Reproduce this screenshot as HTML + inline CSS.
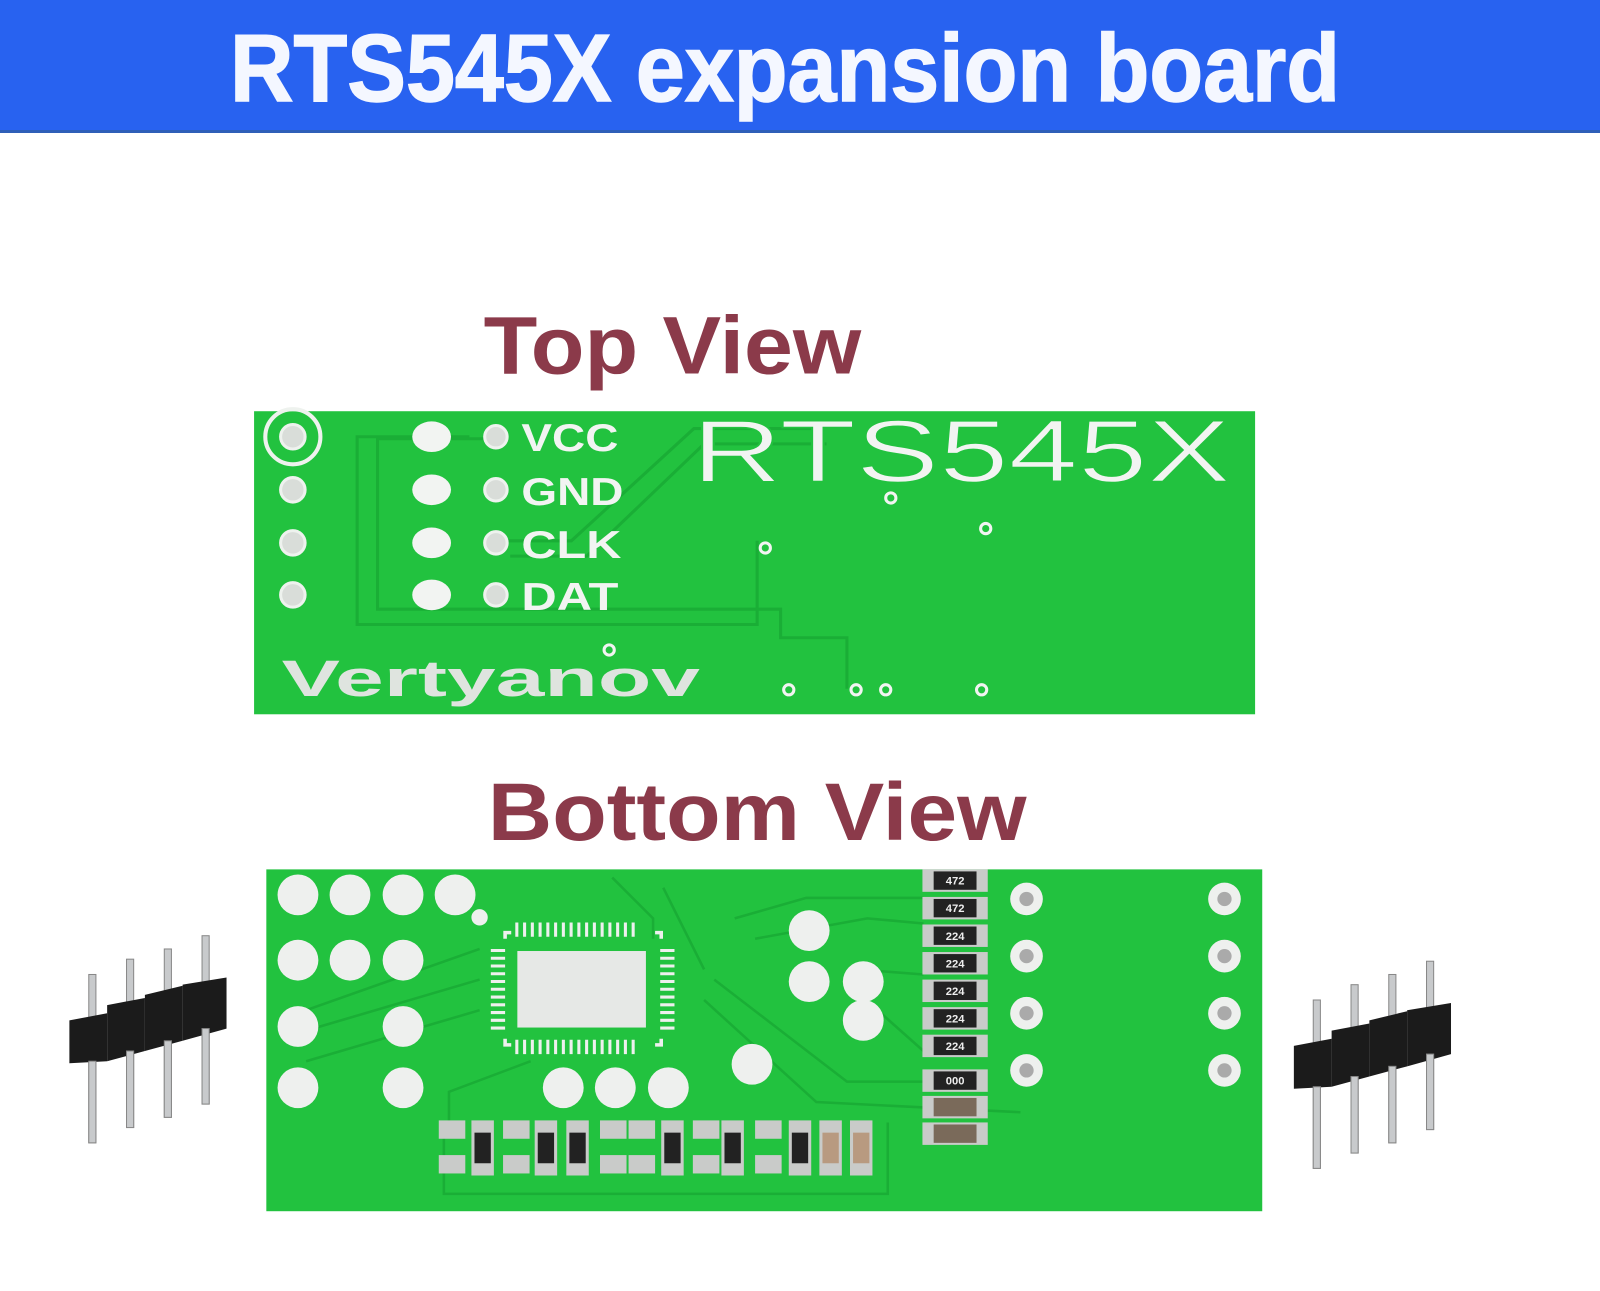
<!DOCTYPE html>
<html><head><meta charset="utf-8"><style>html,body{margin:0;padding:0;background:#fff}svg{display:block}</style></head>
<body>
<svg width="1600" height="1291" viewBox="0 0 1600 1291" xmlns="http://www.w3.org/2000/svg" font-family="Liberation Sans, sans-serif">
<rect x="0" y="0" width="1600" height="132" fill="#2862f0"/>
<rect x="0" y="130" width="1600" height="3" fill="#2f5fb8"/>
<text x="230" y="101" font-size="96" font-weight="bold" fill="#f4f7ff" stroke="#f4f7ff" stroke-width="1.5" textLength="1110" lengthAdjust="spacingAndGlyphs">RTS545X expansion board</text>
<g transform="scale(1.0204)">
<text x="474" y="366" font-size="80" font-weight="bold" fill="#8b3a4a" textLength="370" lengthAdjust="spacingAndGlyphs">Top View</text>
<text x="478" y="823" font-size="80" font-weight="bold" fill="#8b3a4a" textLength="528" lengthAdjust="spacingAndGlyphs">Bottom View</text>
<!-- top board -->
<rect x="249" y="403" width="981" height="297" fill="#22c23f"/>
<g fill="none" stroke="#1aae36" stroke-width="3">
<polyline points="460,428 350,428 350,612 742,612 742,530"/>
<polyline points="480,430 370,430 370,597 765,597 765,625 830,625 830,675"/>
<polyline points="495,530 560,530 680,420 800,420"/>
<polyline points="500,545 575,545 690,435 810,435"/>
</g>
<g fill="#d9ddd9" stroke="#eef2ee" stroke-width="3">
<circle cx="287" cy="428" r="12"/><circle cx="287" cy="480" r="12"/><circle cx="287" cy="532" r="12"/><circle cx="287" cy="583" r="12"/>
<circle cx="486" cy="428" r="11"/><circle cx="486" cy="480" r="11"/><circle cx="486" cy="532" r="11"/><circle cx="486" cy="583" r="11"/>
</g>
<circle cx="287" cy="428" r="27" fill="none" stroke="#eef2ee" stroke-width="4"/>
<g fill="#f2f4f2">
<ellipse cx="423" cy="428" rx="19" ry="15"/><ellipse cx="423" cy="480" rx="19" ry="15"/><ellipse cx="423" cy="532" rx="19" ry="15"/><ellipse cx="423" cy="583" rx="19" ry="15"/>
</g>
<g fill="#f2f4f2" font-weight="bold" font-size="38">
<text x="511" y="442" textLength="95" lengthAdjust="spacingAndGlyphs">VCC</text><text x="511" y="495" textLength="100" lengthAdjust="spacingAndGlyphs">GND</text><text x="511" y="547" textLength="98" lengthAdjust="spacingAndGlyphs">CLK</text><text x="511" y="598" textLength="95" lengthAdjust="spacingAndGlyphs">DAT</text>
</g>
<text x="678" y="472" font-size="86" fill="#f2f4f2" stroke="#22c23f" stroke-width="1.5" textLength="528" lengthAdjust="spacingAndGlyphs">RTS545X</text>
<text x="276" y="682" font-size="50" font-weight="bold" fill="#dfe4df" textLength="410" lengthAdjust="spacingAndGlyphs">Vertyanov</text>
<g fill="#22c23f" stroke="#f2f4f2" stroke-width="3">
<circle cx="750" cy="537" r="5"/><circle cx="966" cy="518" r="5"/><circle cx="873" cy="488" r="5"/><circle cx="597" cy="637" r="5"/>
<circle cx="773" cy="676" r="5"/><circle cx="839" cy="676" r="5"/><circle cx="868" cy="676" r="5"/><circle cx="962" cy="676" r="5"/>
</g>
<!-- bottom board -->
<rect x="261" y="852" width="976" height="335" fill="#22c23f"/>
<g fill="none" stroke="#1aae36" stroke-width="2.5">
<polyline points="300,990 470,930"/><polyline points="300,1010 470,960"/><polyline points="300,1040 470,990"/>
<polyline points="600,860 640,900 640,920"/><polyline points="650,870 690,950"/>
<polyline points="690,980 800,1080 1000,1090"/><polyline points="700,960 830,1060 905,1060"/>
<polyline points="720,900 790,880 905,880"/><polyline points="740,920 850,900 905,905"/>
<polyline points="840,950 905,955"/><polyline points="860,990 905,1030"/>
<polyline points="440,1100 440,1070 520,1040"/>
<polyline points="435,1100 435,1170 870,1170 870,1100"/>
</g>
<g fill="#eef0ee">
<circle cx="292" cy="877" r="20"/><circle cx="343" cy="877" r="20"/><circle cx="395" cy="877" r="20"/><circle cx="446" cy="877" r="20"/>
<circle cx="292" cy="941" r="20"/><circle cx="343" cy="941" r="20"/><circle cx="395" cy="941" r="20"/>
<circle cx="292" cy="1006" r="20"/><circle cx="395" cy="1006" r="20"/>
<circle cx="292" cy="1066" r="20"/><circle cx="395" cy="1066" r="20"/>
<circle cx="793" cy="912" r="20"/><circle cx="793" cy="962" r="20"/><circle cx="846" cy="962" r="20"/><circle cx="846" cy="1000" r="20"/>
<circle cx="737" cy="1043" r="20"/>
<circle cx="552" cy="1066" r="20"/><circle cx="603" cy="1066" r="20"/><circle cx="655" cy="1066" r="20"/>
<circle cx="470" cy="899" r="8"/>
</g>
<!-- QFN -->
<rect x="507" y="932" width="126" height="75" fill="#e6e8e6"/>
<g stroke="#eef0ee" stroke-width="3.5">
<path d="M495 920 v-6 h6 M648 920 v-6 h-6 M495 1018 v6 h6 M648 1018 v6 h-6" fill="none"/>
<path d="M505 911 h120 M505 1026 h120" stroke-dasharray="3,4.6" stroke-width="14"/>
<path d="M488 930 v80 M654 930 v80" stroke-dasharray="3,4.6" stroke-width="14"/>
</g>
<g fill="#eef0ee">
<circle cx="1006" cy="881" r="16"/><circle cx="1006" cy="937" r="16"/><circle cx="1006" cy="993" r="16"/><circle cx="1006" cy="1049" r="16"/>
<circle cx="1200" cy="881" r="16"/><circle cx="1200" cy="937" r="16"/><circle cx="1200" cy="993" r="16"/><circle cx="1200" cy="1049" r="16"/>
</g>
<g fill="#aaa"><circle cx="1006" cy="881" r="7"/><circle cx="1006" cy="937" r="7"/><circle cx="1006" cy="993" r="7"/><circle cx="1006" cy="1049" r="7"/>
<circle cx="1200" cy="881" r="7"/><circle cx="1200" cy="937" r="7"/><circle cx="1200" cy="993" r="7"/><circle cx="1200" cy="1049" r="7"/></g>
<!-- resistor column -->
<g font-size="11" font-weight="bold" fill="#eee" text-anchor="middle">
<g><rect x="904" y="852" width="64" height="22" fill="#c9cbc9"/><rect x="915" y="854" width="42" height="18" fill="#222"/><text x="936" y="867">472</text></g>
<g transform="translate(0,27)"><rect x="904" y="852" width="64" height="22" fill="#c9cbc9"/><rect x="915" y="854" width="42" height="18" fill="#222"/><text x="936" y="867">472</text></g>
<g transform="translate(0,54)"><rect x="904" y="852" width="64" height="22" fill="#c9cbc9"/><rect x="915" y="854" width="42" height="18" fill="#222"/><text x="936" y="867">224</text></g>
<g transform="translate(0,81)"><rect x="904" y="852" width="64" height="22" fill="#c9cbc9"/><rect x="915" y="854" width="42" height="18" fill="#222"/><text x="936" y="867">224</text></g>
<g transform="translate(0,108)"><rect x="904" y="852" width="64" height="22" fill="#c9cbc9"/><rect x="915" y="854" width="42" height="18" fill="#222"/><text x="936" y="867">224</text></g>
<g transform="translate(0,135)"><rect x="904" y="852" width="64" height="22" fill="#c9cbc9"/><rect x="915" y="854" width="42" height="18" fill="#222"/><text x="936" y="867">224</text></g>
<g transform="translate(0,162)"><rect x="904" y="852" width="64" height="22" fill="#c9cbc9"/><rect x="915" y="854" width="42" height="18" fill="#222"/><text x="936" y="867">224</text></g>
<g transform="translate(0,196)"><rect x="904" y="852" width="64" height="22" fill="#c9cbc9"/><rect x="915" y="854" width="42" height="18" fill="#222"/><text x="936" y="867">000</text></g>
<g transform="translate(0,222)"><rect x="904" y="852" width="64" height="22" fill="#c9cbc9"/><rect x="915" y="854" width="42" height="18" fill="#7a6a5a"/></g>
<g transform="translate(0,248)"><rect x="904" y="852" width="64" height="22" fill="#c9cbc9"/><rect x="915" y="854" width="42" height="18" fill="#7a6a5a"/></g>
</g>
<!-- bottom row smd -->
<g fill="#c9cbc9">
<rect x="430" y="1098" width="26" height="18"/><rect x="430" y="1132" width="26" height="18"/>
<rect x="493" y="1098" width="26" height="18"/><rect x="493" y="1132" width="26" height="18"/>
<rect x="588" y="1098" width="26" height="18"/><rect x="588" y="1132" width="26" height="18"/>
<rect x="616" y="1098" width="26" height="18"/><rect x="616" y="1132" width="26" height="18"/>
<rect x="679" y="1098" width="26" height="18"/><rect x="679" y="1132" width="26" height="18"/>
<rect x="740" y="1098" width="26" height="18"/><rect x="740" y="1132" width="26" height="18"/>
<rect x="462" y="1098" width="22" height="54"/><rect x="524" y="1098" width="22" height="54"/><rect x="555" y="1098" width="22" height="54"/>
<rect x="648" y="1098" width="22" height="54"/><rect x="707" y="1098" width="22" height="54"/><rect x="773" y="1098" width="22" height="54"/>
<rect x="803" y="1098" width="22" height="54"/><rect x="833" y="1098" width="22" height="54"/>
</g>
<g fill="#222"><rect x="465" y="1110" width="16" height="30"/><rect x="527" y="1110" width="16" height="30"/><rect x="558" y="1110" width="16" height="30"/><rect x="651" y="1110" width="16" height="30"/><rect x="710" y="1110" width="16" height="30"/><rect x="776" y="1110" width="16" height="30"/></g>
<g fill="#b89a80"><rect x="806" y="1110" width="16" height="30"/><rect x="836" y="1110" width="16" height="30"/></g>
<!-- pin headers -->
<g id="hdr">
<g fill="#c8cacc" stroke="#888" stroke-width="1">
<rect x="87" y="955" width="7" height="165"/><rect x="124" y="940" width="7" height="165"/><rect x="161" y="930" width="7" height="165"/><rect x="198" y="917" width="7" height="165"/>
</g>
<g fill="#1b1b1b">
<path d="M68 1000 L105 993 L105 1040 L68 1042 Z"/>
<path d="M105 985 L142 978 L142 1030 L105 1040 Z"/>
<path d="M142 975 L179 966 L179 1020 L142 1030 Z"/>
<path d="M179 965 L222 958 L222 1008 L179 1020 Z"/>
</g>
<g fill="#c8cacc" stroke="#888" stroke-width="1">
<rect x="87" y="1040" width="7" height="80"/><rect x="124" y="1030" width="7" height="75"/><rect x="161" y="1020" width="7" height="75"/><rect x="198" y="1008" width="7" height="74"/>
</g>
</g>
<use href="#hdr" transform="translate(1200,25)"/>
</g>
</svg>
</body></html>
